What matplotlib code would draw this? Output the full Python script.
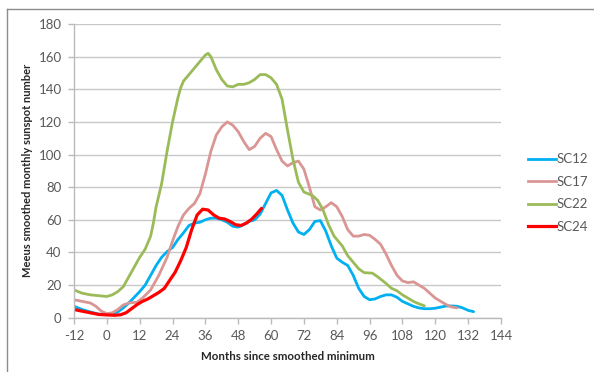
import numpy as np
import matplotlib
matplotlib.use('Agg')
import matplotlib.pyplot as plt
from matplotlib.lines import Line2D

# ── Data ──────────────────────────────────────────────────────
sc12_m = [-12, -9, -6, -3, 0, 2, 4, 6, 8, 10, 12, 14, 16, 18, 20, 22, 24, 26, 28, 30,
          32, 34, 36, 38, 40, 42, 44, 46, 48, 50, 52, 54, 56, 58, 60, 62, 64, 66, 68, 70,
          72, 74, 76, 78, 80, 82, 84, 86, 88, 90, 92, 94, 96, 98, 100, 102, 104, 106, 108,
          110, 112, 114, 116, 118, 120, 122, 124, 126, 128, 130, 132, 134]
sc12_v = [7, 5, 3.5, 2.2, 2, 2.5, 3.5, 6, 9, 12.5, 16, 20, 26, 32, 37, 40.5, 43, 48, 52, 56.5,
          58, 58.5, 60, 61, 61, 60, 58.5, 56, 55.5, 57, 59, 60, 63.5, 70, 76.5, 78, 75, 66, 58, 52.5,
          51, 54, 59, 59.5, 53, 44, 36.5, 34, 32, 26, 18, 13, 11, 11.5, 13, 14, 14, 12.5, 10,
          8.5, 7, 6, 5.5, 5.5, 5.8, 6.5, 7.2, 7.2, 7, 6, 4.5, 3.7]

sc17_m = [-12, -9, -6, -4, -2, 0, 2, 4, 6, 8, 11, 13, 16, 19, 22, 24, 26, 28, 30, 32, 34,
          36, 38, 40, 42, 44, 46, 48, 50, 52, 54, 56, 58, 60, 62, 64, 66, 68, 70, 72, 74,
          76, 78, 80, 82, 84, 86, 88, 90, 92, 94, 96, 98, 100, 102, 104, 106, 108, 110,
          112, 114, 116, 118, 120, 122, 124, 126, 128]
sc17_v = [11, 10, 9, 7, 4, 2.5, 3, 5, 7.8, 9, 9.5, 12, 17, 26, 37, 47, 56, 63, 67, 70, 76,
          88, 102, 112, 117, 120, 118, 114, 108, 103, 105, 110, 113, 111, 103, 96, 93, 95, 96, 91, 80,
          68, 66, 68, 70.5, 68, 62, 54, 50, 50, 51, 50.5, 48, 45, 39, 32, 26, 22.5, 21.5,
          22, 20, 18, 15, 12, 10, 8, 6.5, 6]

sc22_m = [-12, -9, -6, -3, 0, 2, 4, 6, 8, 10, 12, 14, 16, 17, 18, 20, 22, 24, 26, 27, 28,
          30, 32, 34, 36, 37, 38, 40, 42, 44, 46, 48, 50, 52, 54, 56, 58, 60, 62, 64, 66,
          68, 70, 72, 75, 77, 79, 81, 83, 86, 88, 90, 92, 94, 97, 99, 102, 104, 106, 108,
          110, 112, 114, 116]
sc22_v = [17, 15, 14, 13.5, 13, 14, 16, 19, 25, 31, 37, 42, 50, 58, 68, 82, 102, 120, 135, 141, 145,
          149, 153, 157, 161, 162, 160, 152, 146, 142, 141.5, 143, 143, 144, 146, 149, 149, 147, 143, 134, 115,
          97, 83, 77, 75, 72, 66, 57, 50, 44, 38, 34, 30, 27.6, 27.3, 25, 21, 18, 16.5, 14,
          12, 10, 8.5, 7.3]

sc24_m = [-12, -9, -6, -3, 0, 3, 5, 7, 9, 11, 13, 15, 17, 19, 21, 23, 25, 27, 29, 31, 33,
          35, 37, 39, 41, 43, 45, 47, 49, 51, 53, 55, 56.5]
sc24_v = [5, 4, 3, 2, 1.7, 1.5, 1.8, 3, 5.5, 8, 10, 11.5, 13.5, 15.5, 18, 23, 28, 35, 43, 54, 63,
          66.5, 66, 63, 61, 60.5, 59, 57, 56.5, 58, 60.5, 64, 67]

x_ticks = list(range(-12, 145, 12))
y_ticks = list(range(0, 181, 20))

# ── Colours ───────────────────────────────────────────────────
BLUE  = '#00B0F0'
PINK  = '#D99694'
GREEN = '#9BBB59'
RED   = '#FF0000'
GRID  = '#C8C8C8'
TXT   = '#595959'

plt.rcParams['font.family'] = ['Lato', 'DejaVu Sans']
plt.rcParams['axes.unicode_minus'] = False

W, H = 594, 372
fig = plt.figure(figsize=(W / 100, H / 100), dpi=100)
ax = fig.add_axes([74 / W, 1 - 317.7 / H, (501 - 74) / W, (317.7 - 24) / H])

series = [(sc12_m, sc12_v, BLUE, 'SC12', 2.0),
          (sc17_m, sc17_v, PINK, 'SC17', 2.0),
          (sc22_m, sc22_v, GREEN, 'SC22', 2.0),
          (sc24_m, sc24_v, RED, 'SC24', 2.3)]
for m, v, c, lab, lw in series:
    ax.plot(m, v, color=c, lw=lw, label=lab, solid_joinstyle='round',
            solid_capstyle='round')

ax.set_xlim(-12, 144)
ax.set_ylim(0, 180)
ax.set_xticks(x_ticks)
ax.set_yticks(y_ticks)
ax.grid(axis='y', color=GRID, lw=1.0)
ax.set_axisbelow(True)
for s in ['top', 'right']:
    ax.spines[s].set_visible(False)
for s in ['left', 'bottom']:
    ax.spines[s].set_color('#BBBBBB')
    ax.spines[s].set_linewidth(1.0)
ax.tick_params(axis='both', colors='#BBBBBB', labelcolor=TXT, labelsize=9.5,
               length=4, width=1.0, direction='out')
ax.tick_params(axis='x', pad=5)
ax.tick_params(axis='y', pad=5)

ax.set_xlabel('Months since smoothed minimum', fontsize=8.3, fontweight='bold',
              color='#262626', labelpad=6)
ax.set_ylabel('Meeus smoothed monthly sunspot number', fontsize=8.0, fontweight='bold',
              color='#262626', labelpad=4)

handles = [Line2D([], [], color=c, lw=lw) for _, _, c, _, lw in series]
fig.legend(handles, [s[3] for s in series], loc='center left',
           bbox_to_anchor=(528 / W, 1 - 193 / H), frameon=False, fontsize=9.5,
           handlelength=2.1, handletextpad=0.1, labelspacing=0.8,
           borderpad=0, borderaxespad=0, labelcolor=TXT)

# outer chart frame (top and left edges visible)
fig.add_artist(Line2D([7 / W, 1], [1 - 9 / H, 1 - 9 / H], color='#8C8C8C', lw=1.0))
fig.add_artist(Line2D([7 / W, 7 / W], [0, 1 - 9 / H], color='#8C8C8C', lw=1.0))

fig.savefig('out.png', dpi=100)
